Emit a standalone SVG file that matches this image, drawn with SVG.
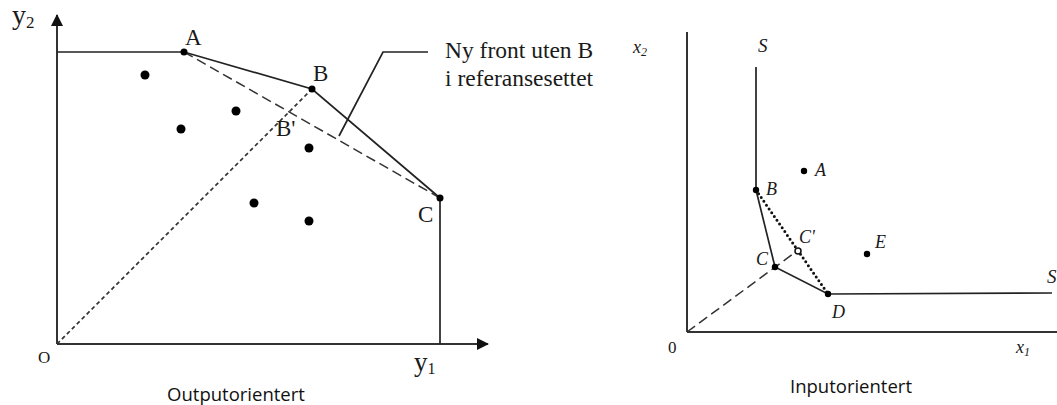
<svg xmlns="http://www.w3.org/2000/svg" width="1057" height="405" viewBox="0 0 1057 405">
<defs>
<style>
.ln{fill:none;stroke:#222;stroke-width:1.7}
.ax{fill:none;stroke:#333;stroke-width:2}
.dash{fill:none;stroke:#333;stroke-width:1.5;stroke-dasharray:10 5}
.dot2{fill:none;stroke:#333;stroke-width:1.7;stroke-dasharray:4 3}
.rdot{fill:none;stroke:#111;stroke-width:3;stroke-dasharray:0 4.6;stroke-linecap:round}
.pt{fill:#000}
.ser{font-family:"Liberation Serif","Times New Roman",serif;fill:#1a1a1a}
.it{font-family:"Liberation Serif","Times New Roman",serif;font-style:italic;fill:#1a1a1a}
.cap{font-family:"Open Sans","Noto Sans",sans-serif;font-size:18.5px;fill:#111;text-anchor:middle}
</style>
<marker id="arr" viewBox="0 0 12 12" refX="11" refY="6" markerWidth="12" markerHeight="12" markerUnits="userSpaceOnUse" orient="auto">
<path d="M0,0 L12,6 L0,12 Z" fill="#111"/>
</marker>
</defs>
<rect width="1057" height="405" fill="#fff"/>

<!-- Left diagram: Outputorientert -->
<g id="connectors-left">
<line class="ax" x1="57" y1="344" x2="57" y2="15" marker-end="url(#arr)"/>
<line class="ax" x1="57" y1="344" x2="488" y2="344" marker-end="url(#arr)"/>
<polyline class="ln" points="57,52 184,52 312,89 440,198 440,344"/>
<line class="dash" x1="184" y1="52" x2="440" y2="198"/>
<line class="dot2" x1="57" y1="344" x2="312" y2="89"/>
<polyline class="ln" points="339,136 383,52 428,52"/>
</g>
<g id="axis-y2"><text class="ser" x="12" y="24" font-size="28">y<tspan font-size="17" dy="4">2</tspan></text></g>
<g id="axis-y1"><text class="ser" x="414" y="371" font-size="27">y<tspan font-size="16" dy="3">1</tspan></text></g>
<g id="origin-O"><text class="ser" x="38" y="363" font-size="17">O</text></g>
<g id="node-A"><circle class="pt" cx="184" cy="52" r="3.5"/><text class="ser" x="185" y="45" font-size="23">A</text></g>
<g id="node-B"><circle class="pt" cx="312" cy="89" r="3.5"/><text class="ser" x="313" y="81" font-size="23">B</text></g>
<g id="node-C"><circle class="pt" cx="440" cy="198" r="3.5"/><text class="ser" x="418" y="222" font-size="23">C</text></g>
<g id="node-Bprime"><text class="ser" x="276" y="136" font-size="23">B'</text></g>
<g id="points-left">
<circle class="pt" cx="145" cy="75" r="4.5"/>
<circle class="pt" cx="181" cy="129" r="4.5"/>
<circle class="pt" cx="236" cy="111" r="4.5"/>
<circle class="pt" cx="309" cy="148" r="4.5"/>
<circle class="pt" cx="254" cy="203" r="4.5"/>
<circle class="pt" cx="309" cy="221" r="4.5"/>
</g>
<g id="note"><text class="ser" font-size="23.5"><tspan x="445" y="58">Ny front uten B</tspan><tspan x="445" y="86">i referansesettet</tspan></text></g>
<g id="caption-left"><text class="cap" x="236" y="401">Outputorientert</text></g>

<!-- Right diagram: Inputorientert -->
<g id="connectors-right">
<line class="ax" x1="687" y1="32" x2="687" y2="332"/>
<line class="ax" x1="687" y1="332" x2="1057" y2="332"/>
<polyline class="ln" points="756,67 756,190 775,267 828,294 1052,293"/>
<line class="rdot" x1="756" y1="190" x2="828" y2="294"/>
<line class="dash" x1="687" y1="332" x2="797" y2="251"/>
</g>
<g id="axis-x2"><text class="it" x="633" y="53" font-size="18">x<tspan font-size="12" dy="3">2</tspan></text></g>
<g id="axis-x1"><text class="it" x="1016" y="353" font-size="18">x<tspan font-size="12" dy="3">1</tspan></text></g>
<g id="origin-0"><text class="ser" x="668" y="353" font-size="17">0</text></g>
<g id="label-S-top"><text class="it" x="758" y="52" font-size="19">S</text></g>
<g id="label-S-right"><text class="it" x="1047" y="283" font-size="19">S</text></g>
<g id="node-rA"><circle class="pt" cx="804" cy="171" r="3.2"/><text class="it" x="815" y="176" font-size="18">A</text></g>
<g id="node-rB"><circle class="pt" cx="756" cy="190" r="3.2"/><text class="it" x="766" y="195" font-size="18">B</text></g>
<g id="node-rC"><circle class="pt" cx="775" cy="267" r="3.2"/><text class="it" x="756" y="265" font-size="18">C</text></g>
<g id="node-rCprime"><circle cx="798" cy="251" r="3" fill="#fff" stroke="#111" stroke-width="1.5"/><text class="it" x="799" y="243" font-size="18">C'</text></g>
<g id="node-rD"><circle class="pt" cx="828" cy="294" r="3.2"/><text class="it" x="832" y="318" font-size="18">D</text></g>
<g id="node-rE"><circle class="pt" cx="867" cy="254" r="3.2"/><text class="it" x="875" y="248" font-size="18">E</text></g>
<g id="caption-right"><text class="cap" x="851" y="393">Inputorientert</text></g>
</svg>
